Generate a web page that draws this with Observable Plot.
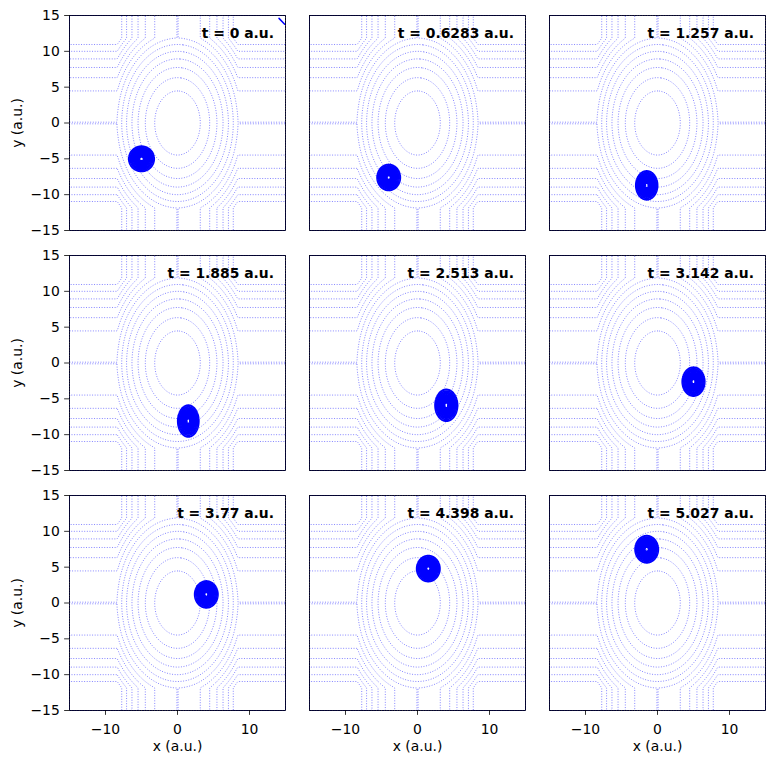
<!DOCTYPE html>
<html>
<head>
<meta charset="utf-8">
<script src="https://cdn.jsdelivr.net/npm/d3@7"></script>
<script src="https://cdn.jsdelivr.net/npm/@observablehq/plot@0.6"></script>
<style>
html, body { margin: 0; padding: 0; background: #fff; overflow: hidden; }
#fig { position: relative; width: 774px; height: 764px; background: #fff; }
#fig svg { position: absolute; }
</style>
</head>
<body>
<div id="fig"></div>
<script>
// ---- data ----
const times = ["0", "0.6283", "1.257", "1.885", "2.513", "3.142", "3.77", "4.398", "5.027"];
// wave-packet centres (a.u.)
const packetX = [-5.0, -4.0, -1.5, 1.5, 4.0, 5.0, 4.0, 1.5, -1.5];
const packetY = [-5.0, -7.6, -8.7, -8.1, -5.9, -2.6, 1.2, 4.8, 7.5];
// outer-contour semi-axes of the packets (a.u.)
const packetRx = [1.75, 1.6, 1.5, 1.45, 1.55, 1.55, 1.6, 1.6, 1.6];
const packetRy = [1.75, 1.8, 2.0, 2.2, 2.2, 2.0, 1.86, 1.8, 1.88];
// relative |psi|^2 contour levels
const packetLevels = [0.05, 0.09, 0.14, 0.2, 0.28, 0.36, 0.44, 0.52, 0.6, 0.68, 0.76, 0.84, 0.92];
// potential: 0.5*wx^2 x^2 + 0.5*wy^2 y^2, each term capped
const omegaX = 1.0;
const omegaY = 0.7071;
const potentialCap = 35;
const potentialLevels = [5, 10, 15, 20, 25, 30, 35, 40, 45, 50, 55, 60, 65];
// small stray contour in the first panel (top-right corner)
const strayX = [14.1, 14.85];
const strayY = [14.6, 13.8];
// axes
const xTicks = [-10, 0, 10];
const yTicks = [-15, -10, -5, 0, 5, 10, 15];
const axisDomain = [-15, 15];

// ---- layout ----
const colLeft = [69, 309, 549];
const rowTop = [15, 255, 495];
const frameW = 216, frameH = 215;
const ML = 69, MR = 8, MT = 10, MB = 54;
const FS = 13.9;

function potential(x, y) {
  return Math.min(0.5 * omegaX * omegaX * x * x, potentialCap) +
         Math.min(0.5 * omegaY * omegaY * y * y, potentialCap);
}

const fig = document.getElementById("fig");

for (let i = 0; i < 9; i++) {
  const r = Math.floor(i / 3), c = i % 3;
  const cx = packetX[i], cy = packetY[i];
  const k = Math.sqrt(-Math.log(packetLevels[0]));
  const sx = packetRx[i] / k, sy = packetRy[i] / k;
  const psi2 = (x, y) => Math.exp(-(((x - cx) / sx) ** 2 + ((y - cy) / sy) ** 2));

  const marks = [
    Plot.contour({
      value: potential,
      x1: axisDomain[0], x2: axisDomain[1], y1: axisDomain[0], y2: axisDomain[1],
      thresholds: potentialLevels.map(v => v + 0.004),
      pixelSize: 1,
      fill: "none",
      stroke: "#0000ff",
      strokeOpacity: 0.6,
      strokeWidth: 0.8,
      strokeDasharray: "1,1.6"
    }),
    Plot.contour({
      value: psi2,
      x1: cx - 3, x2: cx + 3, y1: cy - 3.5, y2: cy + 3.5,
      thresholds: packetLevels,
      pixelSize: 0.5,
      fill: "none",
      stroke: "#0000ff",
      strokeWidth: 1.9
    })
  ];
  if (i === 0) {
    marks.push(Plot.line(strayX.map((x, j) => ({x, y: strayY[j]})), {
      x: "x", y: "y", stroke: "#0000ff", strokeWidth: 1.5
    }));
  }
  marks.push(Plot.text([`t = ${times[i]} a.u.`], {
    text: d => d, frameAnchor: "top-right", dx: -11.5, dy: 12.4,
    textAnchor: "end", lineAnchor: "top", fontWeight: "bold", fontSize: FS, fill: "black"
  }));
  if (c === 0) {
    marks.push(Plot.axisY({
      ticks: yTicks, tickSize: 4.86, tickPadding: 4.86, label: null,
      strokeWidth: 0.8, fontSize: FS
    }));
    marks.push(Plot.text(["y (a.u.)"], {
      text: d => d, frameAnchor: "left", dx: -52, rotate: -90,
      textAnchor: "middle", lineAnchor: "middle", fontSize: FS, fill: "black"
    }));
  }
  if (r === 2) {
    marks.push(Plot.axisX({
      ticks: xTicks, tickSize: 4.86, tickPadding: 8.5, label: null,
      strokeWidth: 0.8, fontSize: FS
    }));
    marks.push(Plot.text(["x (a.u.)"], {
      text: d => d, frameAnchor: "bottom", dy: 36,
      textAnchor: "middle", lineAnchor: "middle", fontSize: FS, fill: "black"
    }));
  }
  marks.push(Plot.frame({stroke: "black", strokeWidth: 0.8}));

  const svg = Plot.plot({
    width: frameW + ML + MR,
    height: frameH + MT + MB,
    marginLeft: ML, marginRight: MR, marginTop: MT, marginBottom: MB,
    x: {domain: axisDomain, axis: null},
    y: {domain: axisDomain, axis: null},
    style: {fontFamily: "DejaVu Sans", fontSize: FS + "px", background: "transparent", overflow: "visible", maxWidth: "none"},
    marks
  });
  svg.style.left = (colLeft[c] - ML) + "px";
  svg.style.top = (rowTop[r] - MT) + "px";
  fig.appendChild(svg);
}
</script>
</body>
</html>
